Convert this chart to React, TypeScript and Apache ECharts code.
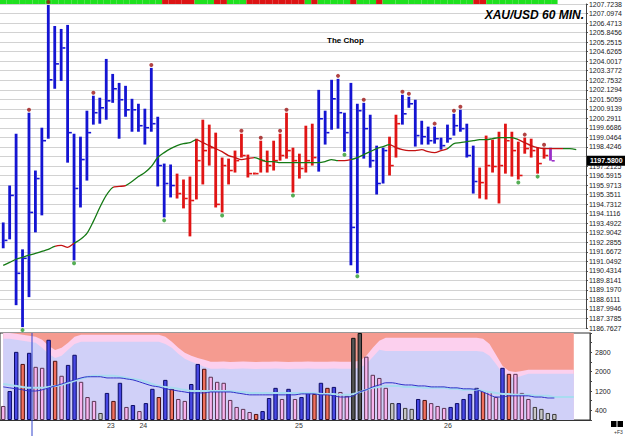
import React, { useEffect, useRef } from 'react';
import * as echarts from 'echarts';

// ---------- data ----------
const SLOTS = 91;
const categories = Array.from({ length: SLOTS }, (_, i) => String(i));

const priceLabels = [
  '1207.7238', '1207.0974', '1206.4713', '1205.8456', '1205.2515', '1204.6265', '1204.0017',
  '1203.3772', '1202.7532', '1202.1294', '1201.5059', '1200.9139', '1200.2911', '1199.6686',
  '1199.0464', '1198.4246', '1197.8031', '1197.2125', '1196.5915', '1195.9713', '1195.3511',
  '1194.7312', '1194.1116', '1193.4922', '1192.9042', '1192.2855', '1191.6672', '1191.0492',
  '1190.4314', '1189.8141', '1189.1970', '1188.6111', '1187.9946', '1187.3785', '1186.7627',
];
// label covered by the last-price box in the reference
const hiddenPriceLabel = '1197.8031';
const PRICE_MAX = 1207.7238;
const PRICE_MIN = 1186.7627;
const LAST_PRICE = 1197.58;
const LAST_PRICE_TEXT = '1197.5800';

const highs = [
  1193.59, 1195.98, 1199.33, 1191.85, 1200.69, 1196.95, 1199.72, 1207.66, 1206.30, 1206.11,
  1206.37, 1199.33, 1199.14, 1200.82, 1201.79, 1201.66, 1204.17, 1203.20, 1202.62, 1202.43,
  1201.59, 1201.27, 1200.95, 1203.59, 1200.43, 1197.40, 1197.34, 1196.75, 1196.37, 1196.56,
  1199.01, 1200.24, 1199.92, 1199.40, 1197.79, 1197.72, 1198.24, 1199.33, 1197.98, 1196.82,
  1198.88, 1198.24, 1198.88, 1199.33, 1200.69, 1198.43, 1198.04, 1199.85, 1199.98, 1202.17,
  1200.82, 1202.82, 1202.88, 1200.69, 1202.62, 1201.27, 1201.33, 1200.56, 1198.56, 1198.43,
  1199.14, 1200.56, 1201.85, 1201.72, 1201.53, 1200.17, 1199.79, 1199.79, 1199.08, 1199.92,
  1200.62, 1200.88, 1199.98, 1198.56, 1197.14, 1199.21, 1198.95, 1199.46, 1199.98, 1199.46,
  1198.82, 1199.08, 1199.01, 1198.43, 1198.43, 1198.43,
];
const lows = [
  1191.92, 1192.50, 1188.24, 1186.82, 1188.76, 1192.95, 1194.05, 1199.01, 1202.24, 1202.75,
  1197.46, 1191.14, 1194.56, 1196.30, 1199.92, 1199.98, 1200.24, 1201.33, 1199.01, 1200.43,
  1199.46, 1199.46, 1198.63, 1199.46, 1195.92, 1193.92, 1195.21, 1195.14, 1194.50, 1192.69,
  1195.08, 1196.05, 1197.27, 1194.56, 1194.24, 1196.05, 1196.82, 1197.79, 1196.50, 1196.69,
  1196.82, 1196.82, 1196.95, 1197.59, 1197.72, 1195.53, 1196.43, 1196.82, 1197.27, 1196.88,
  1198.63, 1199.59, 1199.66, 1198.17, 1190.82, 1190.30, 1197.72, 1197.14, 1195.40, 1196.11,
  1196.63, 1197.79, 1199.92, 1201.01, 1198.50, 1198.63, 1198.63, 1198.69, 1198.30, 1198.75,
  1199.21, 1199.46, 1197.79, 1195.46, 1195.14, 1195.08, 1196.82, 1194.82, 1196.75, 1196.56,
  1196.37, 1198.04, 1197.79, 1196.75, 1197.72, 1197.59,
];
const closes = [
  1192.43, 1195.34, 1190.30, 1191.27, 1194.24, 1196.43, 1198.88, 1202.82, 1203.85, 1204.88,
  1199.40, 1195.79, 1197.66, 1199.40, 1200.69, 1201.01, 1201.46, 1202.24, 1201.53, 1200.88,
  1200.88, 1199.85, 1199.72, 1199.98, 1197.27, 1196.11, 1195.98, 1195.46, 1195.14, 1195.01,
  1197.59, 1198.24, 1198.43, 1194.76, 1197.27, 1196.95, 1197.59, 1197.92, 1196.75, 1196.75,
  1197.59, 1197.27, 1197.59, 1197.92, 1198.24, 1197.59, 1197.08, 1197.59, 1197.79, 1200.30,
  1199.40, 1201.59, 1200.69, 1199.40, 1193.27, 1200.82, 1199.66, 1197.59, 1196.11, 1198.24,
  1197.27, 1199.98, 1200.62, 1201.27, 1199.21, 1199.14, 1198.88, 1199.01, 1198.56, 1199.01,
  1199.85, 1199.66, 1197.92, 1196.24, 1196.17, 1197.27, 1197.21, 1197.27, 1198.88, 1198.24,
  1196.63, 1198.37, 1198.24, 1197.40, 1197.92, 1197.58,
];
// b = blue, r = red, p = purple
const barColorCodes =
  'bbbbbbbbbb' + 'bbbbbbbbbb' + 'bbbbbbbrrr' + 'rrrrrrrrrr' + 'rrrrrrrrrb' +
  'bbbbbbbbbb' + 'rrbbbbbbbb' + 'bbbbrrrrrr' + 'rrrrrp';

const highDotBars = [4, 7, 14, 23, 37, 40, 43, 44, 52, 56, 62, 63, 67, 70, 71, 81, 84];
const lowDotBars = [3, 11, 25, 34, 45, 53, 55, 80, 83];

const maValues = [
  1190.82, 1191.01, 1191.21, 1191.34, 1191.47, 1191.59, 1191.72, 1191.85, 1192.05, 1192.11,
  1191.98, 1192.24, 1192.50, 1192.88, 1193.66, 1194.56, 1195.34, 1195.85, 1195.92, 1195.98,
  1196.24, 1196.56, 1196.82, 1197.21, 1197.79, 1198.11, 1198.37, 1198.56, 1198.69, 1198.75,
  1198.95, 1198.75, 1198.56, 1198.37, 1198.17, 1197.92, 1197.79, 1197.66, 1197.72, 1197.79,
  1197.66, 1197.53, 1197.53, 1197.46, 1197.46, 1197.46, 1197.46, 1197.46, 1197.46, 1197.46,
  1197.53, 1197.66, 1197.59, 1197.59, 1197.66, 1197.79, 1197.98, 1198.17, 1198.37, 1198.50,
  1198.63, 1198.43, 1198.30, 1198.24, 1198.24, 1198.30, 1198.17, 1198.11, 1198.24, 1198.37,
  1198.69, 1198.75, 1198.82, 1198.88, 1198.95, 1198.95, 1199.01, 1199.08, 1199.08, 1199.08,
  1198.95, 1198.75, 1198.56, 1198.43, 1198.37, 1198.37, 1198.37, 1198.37, 1198.37, 1198.30,
];
// index ranges where the average is drawn red (falling)
const maRedRanges: [number, number][] = [
  [8, 10.5], [17.3, 18.7], [30, 38.5], [51.5, 54], [60, 68.5], [79.5, 86.5],
];

// g = green, r = red
const stripCodes =
  'gggggggggg' + 'gggggggggg' + 'gggggrrrrr' + 'gggrrgggrr' + 'rrrrrrrgrg' +
  'ggggrgggrg' + 'gggggggggg' + 'gggrrggggg' + 'gggggg';

const volumes = [
  580, 1200, 2820, 2320, 2780, 2200, 2160, 3320, 2450, 1830,
  2280, 2700, 1580, 950, 790, 290, 1120, 790, 1540, 540,
  620, 370, 700, 1290, 950, 1660, 1290, 870, 790, 1490,
  2320, 2120, 1790, 1580, 1540, 830, 540, 460, 330, 250,
  370, 910, 1330, 870, 1290, 870, 950, 1120, 1080, 1540,
  1330, 1370, 1160, 1000, 3400, 3600, 2620, 1870, 1740, 1330,
  700, 700, 500, 460, 870, 830, 700, 580, 500, 540,
  700, 870, 1080, 1330, 1200, 1160, 950, 2160, 1910, 1910,
  1120, 870, 540, 460, 290, 250,
];
// b blue, r red, p pink, g grey, d dark grey
const volColorCodes =
  'pbbrbppbrp' + 'bbpppgbrbp' + 'bpbbrbrppb' + 'brpppppppr' + 'bbbpbpbbrb' +
  'rbppddpppp' + 'gbggbrpppb' + 'bbbbrppbrp' + 'ppgggg';

const volBandUpper = [
  3600, 3600, 3570, 3530, 3490, 3440, 3320, 3070, 2900, 2990,
  3200, 3440, 3530, 3530, 3530, 3530, 3530, 3530, 3530, 3530,
  3530, 3530, 3530, 3530, 3530, 3440, 3240, 2990, 2780, 2660,
  2570, 2490, 2410, 2410, 2420, 2400, 2410, 2420, 2410, 2400,
  2410, 2410, 2420, 2410, 2400, 2410, 2410, 2420, 2410, 2410,
  2410, 2420, 2410, 2410, 2410, 2450, 2660, 2990, 3280, 3400,
  3400, 3400, 3400, 3400, 3400, 3400, 3400, 3400, 3400, 3400,
  3400, 3400, 3400, 3400, 3360, 3150, 2700, 2240, 2030, 1990,
  2030, 2080, 2080, 2080, 2080, 2080, 2080, 2080, 2080,
];
const volBandLower = [
  3360, 3360, 3320, 3280, 3240, 3200, 2990, 2740, 2570, 2660,
  2910, 3150, 3240, 3240, 3240, 3240, 3240, 3240, 3240, 3240,
  3240, 3240, 3240, 3240, 3240, 3150, 2990, 2740, 2530, 2410,
  2320, 2200, 2120, 2120, 2130, 2110, 2120, 2130, 2120, 2110,
  2120, 2120, 2130, 2120, 2110, 2120, 2120, 2130, 2120, 2120,
  2120, 2130, 2120, 2120, 2120, 2160, 2320, 2610, 2910, 2860,
  2860, 2860, 2860, 2860, 2860, 2860, 2860, 2860, 2860, 2860,
  2860, 2860, 2860, 2860, 2820, 2660, 2320, 1950, 1780, 1740,
  1830, 1910, 1910, 1910, 1910, 1910, 1910, 1910, 1910,
];
const volAverage = [
  1370, 1330, 1290, 1250, 1200, 1200, 1250, 1330, 1410, 1490,
  1580, 1660, 1740, 1790, 1790, 1790, 1740, 1740, 1740, 1700,
  1660, 1580, 1490, 1410, 1370, 1290, 1250, 1200, 1160, 1120,
  1120, 1120, 1160, 1160, 1160, 1160, 1120, 1080, 1040, 1040,
  1040, 1040, 1040, 1040, 1040, 1040, 1080, 1080, 1080, 1040,
  1040, 1000, 950, 950, 1000, 1160, 1250, 1370, 1450, 1540,
  1540, 1490, 1450, 1450, 1410, 1410, 1370, 1370, 1370, 1330,
  1330, 1290, 1290, 1250, 1160, 1040, 950, 950, 1000, 1000,
  1000, 1000, 950, 950, 910, 910,
];
const volSignal = [
  1490, 1450, 1410, 1370, 1330, 1330, 1330, 1370, 1410, 1450,
  1540, 1620, 1700, 1790, 1830, 1830, 1830, 1830, 1790, 1740,
  1700, 1660, 1580, 1490, 1410, 1370, 1330, 1290, 1250, 1200,
  1200, 1200, 1200, 1200, 1200, 1200, 1160, 1160, 1120, 1120,
  1120, 1120, 1120, 1120, 1120, 1120, 1120, 1120, 1120, 1080,
  1080, 1080, 1040, 1040, 1080, 1160, 1250, 1330, 1370, 1410,
  1410, 1410, 1370, 1370, 1370, 1330, 1330, 1330, 1330, 1290,
  1290, 1250, 1250, 1250, 1200, 1160, 1120, 1080, 1080, 1040,
  1040, 1040, 1000, 1000, 1000, 950, 950, 950, 950,
];
const VOL_MAX = 3600;
const volTickLabels = [400, 1200, 2000, 2800];

const dayTickIndex = [16, 21, 45, 68];
const dayTickText = ['23', '24', '25', '26'];

// ---------- styles ----------
const FONT = 'Liberation Sans, Arial, sans-serif';
const priceColors: Record<string, string> = { b: '#1414d2', r: '#e01414', p: '#9a2fc8' };
const stripColors: Record<string, string> = { g: '#1fe01f', r: '#dc1414' };
const volFill: Record<string, string> = { b: '#4848e4', r: '#f0705e', p: '#f8b4ee', g: '#c6c6c6', d: '#555555' };
const volBorder: Record<string, string> = { b: '#0c0c66', r: '#4a1010', p: '#5a3452', g: '#3a3a3a', d: '#111111' };
const MA_GREEN = '#157a15';
const MA_RED = '#c41212';

function buildOption() {
  const gridLeft = -2;
  const gridWidth = 592;

  const maPieces: any[] = [];
  let prev = -1;
  maRedRanges.forEach(([a, b]) => {
    maPieces.push({ gte: prev, lt: a, color: MA_GREEN });
    maPieces.push({ gte: a, lt: b, color: MA_RED });
    prev = b;
  });
  maPieces.push({ gte: prev, lte: SLOTS, color: MA_GREEN });

  return {
    animation: false,
    backgroundColor: '#ffffff',
    textStyle: { fontFamily: FONT },
    title: [
      {
        text: 'XAU/USD 60 MIN.',
        right: 36,
        top: 4,
        textStyle: { fontFamily: FONT, fontSize: 12, fontWeight: 'bold', fontStyle: 'italic', color: '#000' },
      },
      {
        text: 'The Chop',
        left: 322,
        top: 31,
        textStyle: { fontFamily: FONT, fontSize: 8, fontWeight: 'bold', color: '#000' },
      },
    ],
    grid: [
      { left: gridLeft, top: 3, width: gridWidth, height: 325 },
      { left: gridLeft, top: 333, width: gridWidth, height: 87, show: true, borderColor: '#333', borderWidth: 1 },
      { left: gridLeft, top: 0, width: gridWidth, height: 4 },
    ],
    xAxis: [
      { type: 'category', gridIndex: 0, data: categories, show: false },
      {
        type: 'category',
        gridIndex: 1,
        data: categories,
        axisLine: { lineStyle: { color: '#333' } },
        axisTick: { show: false },
        axisLabel: {
          interval: (index: number) => dayTickIndex.includes(index),
          formatter: (_v: string, index: number) => {
            const k = dayTickIndex.indexOf(index);
            return k >= 0 ? dayTickText[k] : '';
          },
          align: 'left',
          fontSize: 7,
          margin: 2,
          color: '#333',
          fontFamily: FONT,
        },
      },
      { type: 'category', gridIndex: 2, data: categories, show: false },
    ],
    yAxis: [
      { type: 'value', gridIndex: 0, min: PRICE_MIN, max: PRICE_MAX, show: false, splitLine: { show: false } },
      {
        type: 'value',
        gridIndex: 0,
        min: 0,
        max: priceLabels.length - 1,
        interval: 1,
        position: 'right',
        axisLine: { show: true, lineStyle: { color: '#444' } },
        axisTick: { show: true, length: 2, lineStyle: { color: '#444' } },
        splitLine: { show: true, lineStyle: { color: '#d2d2d2', width: 1 } },
        axisLabel: {
          formatter: (v: number) => {
            const t = priceLabels[priceLabels.length - 1 - Math.round(v)] || '';
            return t === hiddenPriceLabel ? '' : t;
          },
          fontSize: 7,
          lineHeight: 8,
          margin: 3,
          color: '#222',
          fontFamily: FONT,
        },
      },
      {
        type: 'value',
        gridIndex: 1,
        min: 0,
        max: VOL_MAX,
        interval: 400,
        position: 'right',
        axisLine: { show: true, lineStyle: { color: '#444' } },
        axisTick: { show: true, length: 2, lineStyle: { color: '#444' } },
        splitLine: { show: false },
        axisLabel: {
          formatter: (v: number) => (volTickLabels.includes(v) ? String(v) : ''),
          fontSize: 7,
          margin: 5,
          color: '#222',
          fontFamily: FONT,
        },
      },
      { type: 'value', gridIndex: 2, min: 0, max: 1, show: false },
    ],
    visualMap: [
      {
        type: 'piecewise',
        show: false,
        dimension: 0,
        seriesIndex: 2,
        pieces: maPieces,
      },
    ],
    series: [
      // 0: top strip
      {
        type: 'bar',
        xAxisIndex: 2,
        yAxisIndex: 3,
        barCategoryGap: '0%',
        silent: true,
        data: stripCodes.split('').map((c) => ({ value: 1, itemStyle: { color: stripColors[c] } })),
      },
      // 1: last price marker (label box on the axis)
      {
        type: 'line',
        xAxisIndex: 0,
        yAxisIndex: 0,
        data: [],
        z: 10,
        markLine: {
          silent: true,
          symbol: ['none', 'none'],
          lineStyle: { color: 'rgba(0,0,0,0)', width: 0 },
          label: {
            show: true,
            position: 'end',
            distance: 1,
            formatter: LAST_PRICE_TEXT,
            backgroundColor: '#000',
            color: '#fff',
            fontSize: 7,
            lineHeight: 8,
            fontWeight: 'bold',
            fontFamily: FONT,
            padding: [1, 3, 1, 3],
          },
          data: [{ yAxis: LAST_PRICE }],
        },
      },
      // 2: moving average
      {
        type: 'line',
        xAxisIndex: 0,
        yAxisIndex: 0,
        showSymbol: false,
        symbol: 'none',
        smooth: 0.3,
        lineStyle: { width: 1.3 },
        data: maValues.map((v, i) => [i, v]),
      },
      // 3: OHLC bars
      {
        type: 'custom',
        xAxisIndex: 0,
        yAxisIndex: 0,
        z: 3,
        data: highs.map((h, i) => [i, h, lows[i], closes[i]]),
        renderItem: (params: any, api: any) => {
          const i = api.value(0);
          const hi = api.coord([i, api.value(1)]);
          const lo = api.coord([i, api.value(2)]);
          const cl = api.coord([i, api.value(3)]);
          const color = priceColors[barColorCodes[params.dataIndex]];
          return {
            type: 'group',
            children: [
              {
                type: 'line',
                shape: { x1: hi[0], y1: hi[1], x2: lo[0], y2: lo[1] },
                style: { stroke: color, lineWidth: 2.8 },
              },
              {
                type: 'line',
                shape: { x1: cl[0] + 1.2, y1: cl[1], x2: cl[0] + 4.2, y2: cl[1] },
                style: { stroke: color, lineWidth: 1.6 },
              },
            ],
          };
        },
      },
      // 4: high markers
      {
        type: 'scatter',
        xAxisIndex: 0,
        yAxisIndex: 0,
        z: 4,
        symbolSize: 4,
        symbolOffset: [0, -3],
        itemStyle: { color: '#9e1414' },
        data: highDotBars.map((i) => [i, highs[i]]),
      },
      // 5: low markers
      {
        type: 'scatter',
        xAxisIndex: 0,
        yAxisIndex: 0,
        z: 4,
        symbolSize: 4,
        symbolOffset: [0, 3],
        itemStyle: { color: '#2a9a2a' },
        data: lowDotBars.map((i) => [i, lows[i]]),
      },
      // 6: salmon background of the volume panel
      {
        type: 'line',
        xAxisIndex: 1,
        yAxisIndex: 2,
        data: [],
        z: 1,
        markArea: {
          silent: true,
          itemStyle: { color: '#f59b90' },
          data: [[{ xAxis: categories[0] }, { xAxis: categories[volBandUpper.length - 1] }]],
        },
      },
      // 7: volume upper band (pink)
      {
        type: 'line',
        xAxisIndex: 1,
        yAxisIndex: 2,
        z: 2,
        symbol: 'none',
        lineStyle: { width: 0 },
        areaStyle: { color: '#fcd0ee', opacity: 1 },
        data: volBandUpper,
      },
      // 8: volume lower band (lavender)
      {
        type: 'line',
        xAxisIndex: 1,
        yAxisIndex: 2,
        z: 3,
        symbol: 'none',
        lineStyle: { width: 0 },
        areaStyle: { color: '#d0d0f8', opacity: 1 },
        data: volBandLower,
      },
      // 9: volume bars
      {
        type: 'bar',
        xAxisIndex: 1,
        yAxisIndex: 2,
        z: 5,
        barWidth: 4.4,
        data: volumes.map((v, i) => {
          const c = volColorCodes[i];
          return { value: v, itemStyle: { color: volFill[c], borderColor: volBorder[c], borderWidth: 1 } };
        }),
      },
      // 10: volume signal line (light cyan)
      {
        type: 'line',
        xAxisIndex: 1,
        yAxisIndex: 2,
        z: 6,
        symbol: 'none',
        smooth: 0.3,
        lineStyle: { width: 2, color: '#a8dcf0' },
        data: volSignal,
      },
      // 11: volume average (blue)
      {
        type: 'line',
        xAxisIndex: 1,
        yAxisIndex: 2,
        z: 7,
        symbol: 'none',
        smooth: 0.3,
        lineStyle: { width: 1, color: '#3030c8' },
        data: volAverage,
      },
    ],
    graphic: [
      { type: 'line', shape: { x1: 32, y1: 333, x2: 32, y2: 436 }, style: { stroke: '#3344cc', lineWidth: 1 }, z: 100 },
      { type: 'rect', shape: { x: 611, y: 421, width: 5.5, height: 6 }, style: { fill: '#000' } },
      { type: 'rect', shape: { x: 617.5, y: 421, width: 5.5, height: 6 }, style: { fill: '#000' } },
      { type: 'text', x: 614, y: 429, style: { text: '+F3', fontSize: 5, fill: '#333', fontFamily: FONT } },
    ],
  };
}

export default function App() {
  const ref = useRef<HTMLDivElement>(null);
  useEffect(() => {
    if (!ref.current) return;
    const chart = echarts.init(ref.current, null, { renderer: 'svg' });
    chart.setOption(buildOption() as any);
    return () => chart.dispose();
  }, []);
  return (
    <div
      ref={ref}
      style={{ position: 'absolute', left: 0, top: 0, width: 625, height: 436, background: '#fff' }}
    />
  );
}
